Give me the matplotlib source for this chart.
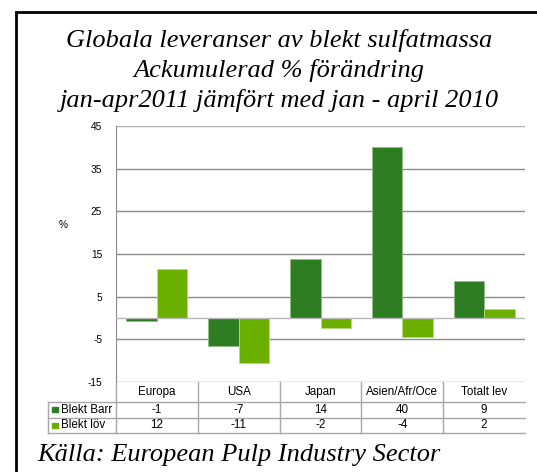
import numpy as np
import matplotlib
matplotlib.use("Agg")
import matplotlib.pyplot as plt
from matplotlib.patches import Rectangle

# data
categories = ["Europa", "USA", "Japan", "Asien/Afr/Oce", "Totalt lev"]
series_names = ["Blekt Barr", "Blekt löv"]
barr = [-0.8, -6.6, 13.8, 40.0, 8.6]
lov = [11.6, -10.6, -2.3, -4.4, 2.2]
yticks = [-15, -5, 5, 15, 25, 35, 45]

title_lines = ["Globala leveranser av blekt sulfatmassa",
               "Ackumulerad % förändring",
               "jan-apr2011 jämfört med jan - april 2010"]
source = "Källa: European Pulp Industry Sector"

colors = ["#2f7d22", "#6bb000"]
W, H = 537, 472
fig = plt.figure(figsize=(W / 100, H / 100), dpi=100)

def box(x0, y0, x1, y1):
    # pixel box (top-left origin) -> figure fraction
    return [x0 / W, 1 - y1 / H, (x1 - x0) / W, (y1 - y0) / H]

# frame (only top/left visible in the reference)
fig.add_artist(Rectangle((16 / W, -0.05), 1.2, 1 - 12 / H + 0.05,
                         transform=fig.transFigure, fill=False,
                         edgecolor="black", linewidth=2))

serif = ["Liberation Serif", "DejaVu Serif"]
sans = ["Liberation Sans", "DejaVu Sans"]

for i, line in enumerate(title_lines):
    fig.text(279 / W, 1 - (47 + 30 * i) / H, line, ha="center", va="baseline",
             family=serif, style="italic", fontsize=19)
fig.text(37 / W, 1 - 461 / H, source, ha="left", va="baseline",
         family=serif, style="italic", fontsize=19)

# main chart
x_left, x_right, y_top, y_bot = 116, 525, 126, 382
ax = fig.add_axes(box(x_left, y_top, x_right, y_bot))
x = np.arange(len(categories))
bw = 0.372
ax.bar(x - bw / 2, barr, bw, color=colors[0], edgecolor="#8fbf80", linewidth=0.6, zorder=3)
ax.bar(x + bw / 2, lov, bw, color=colors[1], edgecolor="#b5dc80", linewidth=0.6, zorder=3)
ax.set_xlim(-0.5, len(categories) - 0.5)
ax.set_ylim(-15, 45)
ax.set_yticks(yticks)
ax.set_yticklabels([str(t) for t in yticks], family=sans, fontsize=7.3)
ax.tick_params(axis="y", length=0, pad=10)
ax.set_xticks([])
for t in yticks:
    c = "#b0b0b0" if t == 45 else "#8a8a8a"
    ax.axhline(t, color=c, linewidth=1, zorder=1)
ax.axhline(0, color="#b8b8b8", linewidth=1, zorder=4)
for s in ["top", "right", "bottom"]:
    ax.spines[s].set_visible(False)
ax.spines["left"].set_color("#8a8a8a")
fig.text(63 / W, 1 - 225 / H, "%", ha="center", va="center", family=sans, fontsize=7.3)

# data table under the chart
label_w = (x_left - 48) / ((x_right - x_left) / len(categories))
rows = [382, 402, 417.5, 433]
tax = fig.add_axes(box(48, rows[0], x_right, rows[-1]))
tax.set_xlim(-0.5 - label_w, len(categories) - 0.5)
tax.set_ylim(rows[-1], rows[0])
tax.axis("off")
lc = "#a8a8a8"
xl = -0.5 - label_w
for j in range(len(categories)):
    xb = j - 0.5
    tax.plot([xb, xb], [rows[0], rows[-1]], color=lc, lw=1, clip_on=False)
tax.plot([xl, xl], [rows[1], rows[-1]], color=lc, lw=1, clip_on=False)
for r in rows[1:]:
    tax.plot([xl, len(categories) - 0.5], [r, r], color=lc, lw=1, clip_on=False)
for j, cat in enumerate(categories):
    tax.text(j, (rows[0] + rows[1]) / 2, cat, ha="center", va="center",
             family=sans, fontsize=8.4)
for i, (name, vals) in enumerate(zip(series_names, [barr, lov])):
    yc = (rows[i + 1] + rows[i + 2]) / 2
    tax.add_patch(Rectangle((xl + 0.055, yc - 2.6), 0.065, 5.2, color=colors[i], clip_on=False))
    tax.text(xl + 0.165, yc, name, ha="left", va="center", family=sans, fontsize=8.4)
    for j, v in enumerate(vals):
        tax.text(j, yc, f"{v:.0f}", ha="center", va="center", family=sans, fontsize=8.4)

fig.savefig("out.png", dpi=100)
